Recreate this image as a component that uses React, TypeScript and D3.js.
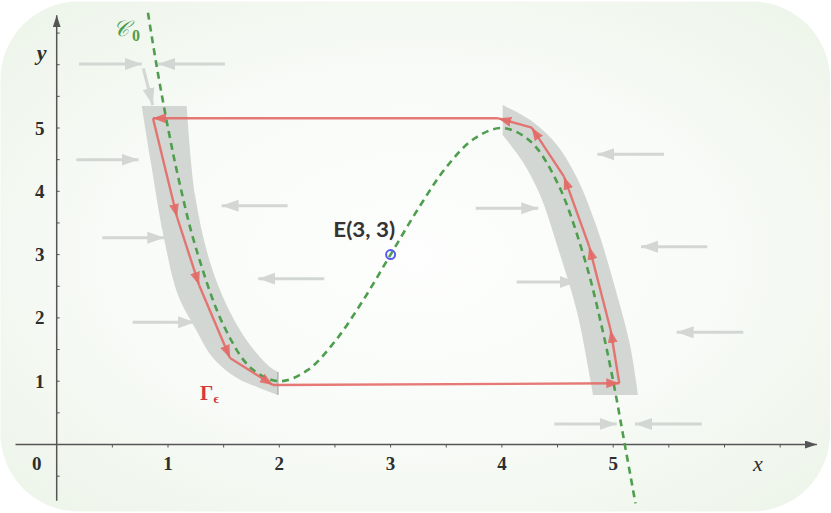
import React, { useLayoutEffect } from 'react';
import * as d3 from 'd3';

const W = 831;
const H = 513;

// axis ticks
const xMajor = [1, 2, 3, 4, 5];
const yMajor = [1, 2, 3, 4, 5];
const xMinor = [0.5, 1, 1.5, 2, 2.5, 3, 3.5, 4, 4.5, 5, 5.5, 6, 6.5];
const yMinor = [-0.5, 0.5, 1, 1.5, 2, 2.5, 3, 3.5, 4, 4.5, 5, 5.5, 6, 6.5];
const xAxisExtent = [-0.37, 6.83];
const yAxisExtent = [-0.89, 6.78];

// slow manifold C0 (dashed)
const curveXs = [0.82, 0.9, 1.0, 1.1, 1.25, 1.5, 1.75, 2.0, 2.25, 2.5, 2.75, 3.0, 3.25, 3.5, 3.75, 4.0, 4.25, 4.5, 4.75, 4.9, 5.0, 5.1, 5.2];
const curveYs = [6.82, 5.96, 5.0, 4.16, 3.11, 1.88, 1.2, 1.0, 1.17, 1.63, 2.27, 3.0, 3.73, 4.38, 4.83, 5.0, 4.8, 4.13, 2.89, 1.84, 1.0, 0.04, -0.93];

// gray neighbourhood bands
const leftBandOuterX = [0.764, 0.845, 0.958, 1.09, 1.243, 1.405, 1.62, 1.8, 1.988];
const leftBandOuterY = [5.348, 4.467, 3.31, 2.36, 1.84, 1.367, 1.05, 0.908, 0.782];
const leftBandInnerX = [1.988, 1.916, 1.737, 1.557, 1.377, 1.243, 1.168];
const leftBandInnerY = [1.145, 1.224, 1.572, 2.093, 2.883, 3.94, 5.348];
const rightBandOuterX = [4.007, 4.279, 4.495, 4.675, 4.855, 5.035, 5.151, 5.223];
const rightBandOuterY = [5.364, 5.095, 4.732, 4.21, 3.42, 2.362, 1.572, 0.782];
const rightBandInnerX = [4.818, 4.792, 4.675, 4.495, 4.343, 4.19, 4.007];
const rightBandInnerY = [0.782, 1.05, 2.093, 3.152, 3.94, 4.46, 4.889];

// relaxation cycle Gamma_eps
const loopX = [0.865, 1.081, 1.279, 1.557, 1.943, 5.055, 4.977, 4.785, 4.558, 4.268, 3.968, 0.865];
const loopY = [5.153, 3.594, 2.52, 1.367, 0.94, 0.967, 1.809, 3.125, 4.231, 5.005, 5.153, 5.153];

// fast-flow arrows (gray)
const flowX1 = [0.201, 1.512, 0.778, 0.176, 2.075, 0.41, 2.404, 0.683, 5.456, 3.765, 5.845, 4.133, 6.169, 4.471, 5.795];
const flowY1 = [6.011, 6.011, 5.943, 4.499, 3.773, 3.267, 2.619, 1.93, 4.585, 3.731, 3.125, 2.567, 1.772, 0.324, 0.324];
const flowX2 = [0.766, 0.91, 0.863, 0.735, 1.482, 0.967, 1.811, 1.243, 4.857, 4.327, 5.25, 4.672, 5.57, 5.031, 5.196];
const flowY2 = [6.011, 6.011, 5.363, 4.499, 3.773, 3.267, 2.619, 1.93, 4.585, 3.731, 3.125, 2.567, 1.772, 0.324, 0.324];

const eqX = 3;
const eqY = 3;

export default function App() {
  useLayoutEffect(() => {
    document.body.style.margin = '0';
  }, []);

  const x = d3.scaleLinear().domain([0, 5]).range([56.7, 613.2]);
  const y = d3.scaleLinear().domain([0, 5]).range([444.5, 128]);

  const smooth = d3
    .line<[number, number]>()
    .x((d) => x(d[0]))
    .y((d) => y(d[1]))
    .curve(d3.curveCatmullRom.alpha(0.5));
  const straight = d3
    .line<[number, number]>()
    .x((d) => x(d[0]))
    .y((d) => y(d[1]));

  const zip = (a: number[], b: number[]) => a.map((v, i) => [v, b[i]] as [number, number]);

  const bandPath = (ox: number[], oy: number[], ix: number[], iy: number[]) => {
    const p1 = smooth(zip(ox, oy)) as string;
    const p2 = (smooth(zip(ix, iy)) as string).replace(/^M/, 'L');
    return p1 + p2 + 'Z';
  };

  const curvePath = smooth(zip(curveXs, curveYs)) as string;
  const loopPts = zip(loopX, loopY);
  const loopSegs = loopPts.slice(0, -1).map((p, i) => [p, loopPts[i + 1]] as [number, number][]);

  const axisColor = '#555';
  const red = '#e36a66';
  const green = '#4e9e4e';
  const grayArrow = '#d3d7d3';

  return (
    <svg width={W} height={H} style={{ display: 'block' }} xmlns="http://www.w3.org/2000/svg">
      <defs>
        <radialGradient id="bg" cx="50%" cy="50%" r="65%">
          <stop offset="0%" stopColor="#fdfefd" />
          <stop offset="55%" stopColor="#f8fbf7" />
          <stop offset="100%" stopColor="#eef5eb" />
        </radialGradient>
        <marker id="redHead" markerUnits="userSpaceOnUse" markerWidth="16" markerHeight="12" refX="13" refY="5" orient="auto">
          <path d="M0,0 L13,5 L0,10 Z" fill={red} fillOpacity={0.9} />
        </marker>
        <marker id="grayHead" markerUnits="userSpaceOnUse" markerWidth="20" markerHeight="14" refX="17" refY="6" orient="auto">
          <path d="M0,0 L17,6 L0,12 Z" fill={grayArrow} />
        </marker>
        <marker id="axisHead" markerUnits="userSpaceOnUse" markerWidth="14" markerHeight="10" refX="12" refY="4" orient="auto">
          <path d="M0,0 L12,4 L0,8 Z" fill={axisColor} />
        </marker>
      </defs>

      <rect x={0.5} y={1.5} width={W - 1.5} height={H - 3} rx={78} ry={78} fill="url(#bg)" />

      {/* fast-flow arrows */}
      {flowX1.map((v, i) => (
        <line
          key={'f' + i}
          x1={x(v)}
          y1={y(flowY1[i])}
          x2={x(flowX2[i])}
          y2={y(flowY2[i])}
          stroke={grayArrow}
          strokeWidth={3}
          markerEnd="url(#grayHead)"
        />
      ))}

      {/* bands */}
      <path d={bandPath(leftBandOuterX, leftBandOuterY, leftBandInnerX, leftBandInnerY)} fill="#d2d7d3" />
      <path d={bandPath(rightBandOuterX, rightBandOuterY, rightBandInnerX, rightBandInnerY)} fill="#d2d7d3" />
      <line x1={x(1.988)} x2={x(1.988)} y1={y(1.145)} y2={y(0.782)} stroke="#9a9e9b" strokeWidth={1} />

      {/* axes */}
      <line x1={x(xAxisExtent[0])} x2={x(xAxisExtent[1])} y1={y(0)} y2={y(0)} stroke={axisColor} strokeWidth={1.5} markerEnd="url(#axisHead)" />
      <line x1={x(0)} x2={x(0)} y1={y(yAxisExtent[0])} y2={y(yAxisExtent[1])} stroke={axisColor} strokeWidth={1.5} markerEnd="url(#axisHead)" />
      {xMinor.map((t) => (
        <line key={'xt' + t} x1={x(t)} x2={x(t)} y1={y(0)} y2={y(0) + 3} stroke={axisColor} strokeWidth={1} />
      ))}
      {yMinor.map((t) => (
        <line key={'yt' + t} x1={x(0)} x2={x(0) + 3} y1={y(t)} y2={y(t)} stroke={axisColor} strokeWidth={1} />
      ))}
      {xMajor.map((t) => (
        <text
          key={'xl' + t}
          x={x(t)}
          y={y(0) + 19}
          textAnchor="middle"
          dominantBaseline="central"
          fontFamily="'Liberation Serif', serif"
          fontWeight="bold"
          fontSize={19}
          fill="#2e2e2e"
        >
          {t}
        </text>
      ))}
      {yMajor.map((t) => (
        <text
          key={'yl' + t}
          x={x(0) - 17}
          y={y(t)}
          textAnchor="middle"
          dominantBaseline="central"
          fontFamily="'Liberation Serif', serif"
          fontWeight="bold"
          fontSize={19}
          fill="#2e2e2e"
        >
          {t}
        </text>
      ))}
      <text x={x(0) - 20} y={y(0) + 19} textAnchor="middle" dominantBaseline="central" fontFamily="'Liberation Serif', serif" fontWeight="bold" fontSize={19} fill="#2e2e2e">
        0
      </text>
      <text x={x(0) - 15} y={y(6.2)} textAnchor="middle" dominantBaseline="central" fontFamily="'Liberation Serif', serif" fontStyle="italic" fontWeight="bold" fontSize={22} fill="#2e2e2e">
        y
      </text>
      <text x={x(6.3)} y={y(0) + 19} textAnchor="middle" dominantBaseline="central" fontFamily="'Liberation Serif', serif" fontStyle="italic" fontSize={22} fill="#2e2e2e">
        x
      </text>

      {/* slow manifold */}
      <path d={curvePath} fill="none" stroke={green} strokeWidth={2.6} strokeDasharray="7 5" />

      {/* cycle */}
      {loopSegs.map((s, i) => (
        <path key={'r' + i} d={straight(s) as string} fill="none" stroke={red} strokeOpacity={0.9} strokeWidth={2.4} markerEnd="url(#redHead)" />
      ))}

      {/* labels */}
      <text x={113} y={36} fontFamily="'DejaVu Serif', serif" fontStyle="italic" fontSize={22} fill={green}>
        𝒞
        <tspan dx={3} dy={5} fontSize={16} fontStyle="normal" fontFamily="'Liberation Serif', serif" fontWeight="bold">
          0
        </tspan>
      </text>
      <text x={x(2.485)} y={y(3.4)} dominantBaseline="central" fontFamily="Lato, 'DejaVu Sans', sans-serif" fontWeight="bold" fontSize={20} fill="#333" textLength={62} lengthAdjust="spacingAndGlyphs">
        E(3, 3)
      </text>
      <circle cx={x(eqX)} cy={y(eqY)} r={4.5} fill="none" stroke="#5a5af0" strokeWidth={2} />
      <text x={200} y={400} fontFamily="'Liberation Serif', serif" fontWeight="bold" fontSize={21} fill="#d43a3a">
        Γ
        <tspan fontSize={13} dy={3}>
          ϵ
        </tspan>
      </text>
    </svg>
  );
}
